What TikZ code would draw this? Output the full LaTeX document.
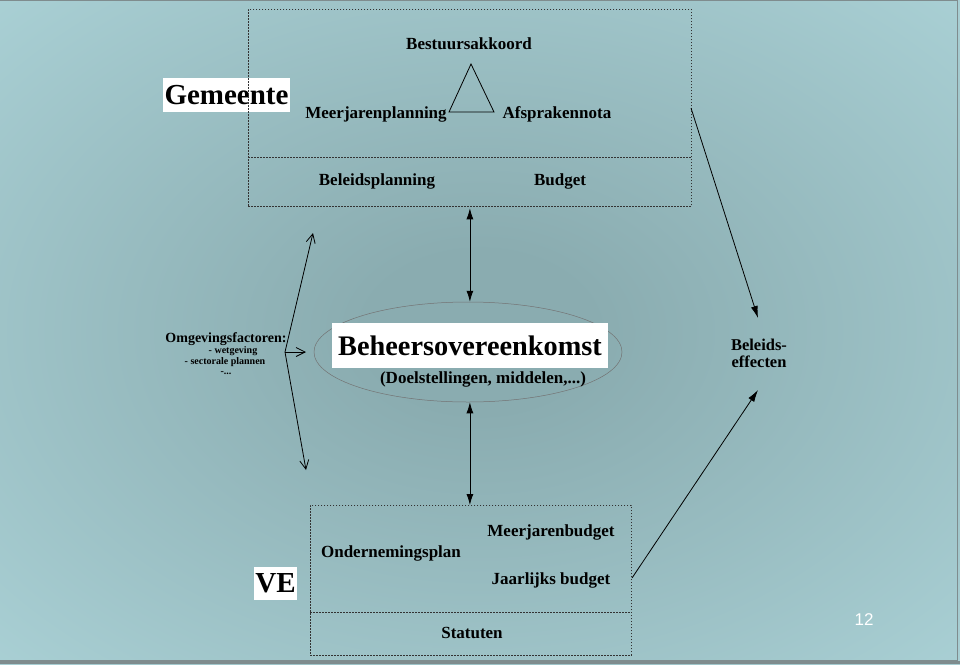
\documentclass[tikz,border=0pt]{standalone}
\usepackage{fontspec}
\setmainfont{Liberation Serif}
\newfontfamily\arialfont{Liberation Sans}
\usetikzlibrary{arrows.meta,shapes.geometric}
\definecolor{bgc}{HTML}{8AACB0}
\definecolor{bge}{HTML}{B8E1E6}
\definecolor{framec}{HTML}{7F8C8E}
\pgfdeclareradialshading{bgshade}{\pgfpoint{0bp}{0bp}}{color(0bp)=(bgc);color(6bp)=(bgc);color(50bp)=(bge);color(100bp)=(bge)}
\begin{document}
\begin{tikzpicture}[x=1pt,y=-1pt,
  txt/.style={font=\bfseries\fontsize{17}{19}\selectfont, inner sep=0pt, text=black},
  bigtxt/.style={font=\bfseries\fontsize{29}{31}\selectfont, inner sep=0pt, text=black},
  smalltxt/.style={font=\bfseries\fontsize{10}{11}\selectfont, inner sep=0pt, text=black},
  whitebox/.style={fill=white, inner sep=0pt},
  dbox/.style={draw=black!80, dash pattern=on 1.6pt off 1.4pt, line width=0.8pt},
  dblarr/.style={{Latex[length=11pt,width=7pt]}-{Latex[length=11pt,width=7pt]}, line width=0.8pt},
  solidarr/.style={-{Latex[length=12pt,width=7pt]}, line width=0.8pt},
  openarr/.style={-{Straight Barb[length=9pt,width=9pt]}, line width=0.8pt}
]
\useasboundingbox (0,0) rectangle (960,664);
\shade[shading=bgshade] (0,0) rectangle (960,664);
% frame
\draw[framec, line width=1.5pt] (0,0.5) -- (957.5,0.5) -- (957.5,661) -- (0,661);
\fill[framec] (0,661) rectangle (960,664);

% Gemeente label box (under dashed box)
\node[whitebox, minimum width=127, minimum height=34] (gembox) at (226.5,95) {};
\node[bigtxt] (gem) at (gembox.center) {Gemeente};

% top dashed box
\node[dbox, minimum width=443, minimum height=197, anchor=north west, inner sep=0pt] (top) at (248,9) {};
\coordinate (topdivL) at (248,157);
\coordinate (topdivR) at (691,157);
\draw[dbox] (topdivL) -- (topdivR);

\node[txt] (bestuur) at (469,44) {Bestuursakkoord};
\coordinate (triA) at (471,64);
\coordinate (triL) at (449,112);
\coordinate (triR) at (494,112);
\draw[line width=0.8pt, line join=miter] (triA) -- (triL) -- (triR) -- cycle;
\node[txt] (meer) at (376,114) {Meerjarenplanning};
\node[txt] (afspr) at (557,114) {Afsprakennota};
\node[txt] (beleid) at (377,181) {Beleidsplanning};
\node[txt] (budget) at (560,181) {Budget};

% ellipse
\node[draw=black!55, line width=0.5pt, ellipse, minimum width=308, minimum height=100, inner sep=0pt] (ell) at (468,352) {};
\node[whitebox, minimum width=276, minimum height=45] (behbox) at (470,345.5) {};
\node[font=\bfseries\fontsize{28.3}{30}\selectfont, inner sep=0pt] (beh) at (behbox.center) {Beheersovereenkomst};
\node[font=\bfseries\fontsize{17}{19}\selectfont, inner sep=0pt] (doel) at (483,379) {(Doelstellingen, middelen,...)};

% omgevingsfactoren
\node[font=\bfseries\fontsize{14}{15}\selectfont, inner sep=0pt] (omg) at (226,339) {Omgevingsfactoren:};
\node[smalltxt] (omg1) at (233,351.5) {- wetgeving};
\node[smalltxt] (omg2) at (225,362.5) {- sectorale plannen};
\node[smalltxt] (omg3) at (226,373) {-...};

\coordinate (fan) at (285,352);
\coordinate (fanT) at (313,233);
\coordinate (fanB) at (306,470);
\coordinate (fanR) at (306,352);
\draw[openarr] (fan) -- (fanT);
\draw[openarr] (fan) -- (fanB);
\draw[openarr] (fan) -- (fanR);

% bottom dashed box
\node[dbox, minimum width=321, minimum height=150, anchor=north west, inner sep=0pt] (bot) at (310,505) {};
\coordinate (botdivL) at (310,612);
\coordinate (botdivR) at (631,612);
\draw[dbox] (botdivL) -- (botdivR);
\node[font=\bfseries\fontsize{17}{19}\selectfont, inner sep=0pt] (onder) at (391,553) {Ondernemingsplan};
\node[font=\bfseries\fontsize{17}{19}\selectfont, inner sep=0pt] (mjb) at (551,532) {Meerjarenbudget};
\node[font=\bfseries\fontsize{17}{19}\selectfont, inner sep=0pt] (jb) at (551,580) {Jaarlijks budget};
\node[font=\bfseries\fontsize{17}{19}\selectfont, inner sep=0pt] (stat) at (472,633) {Statuten};

\node[whitebox, minimum width=43, minimum height=33] (vebox) at (275.5,583.5) {};
\node[bigtxt] (ve) at (vebox.center) {VE};

% vertical connectors
\draw[dblarr, shorten <=1.5pt] (top.south) -- (top.south |- ell.north);
\draw[dblarr] (top.south |- ell.south) -- (top.south |- bot.north);

% beleidseffecten
\node[font=\bfseries\fontsize{16.5}{17}\selectfont, inner sep=0pt, align=center] (eff) at (759,353) {Beleids-\\effecten};
\coordinate (topR) at (691,108);
\coordinate (effN) at (758,318);
\coordinate (botR) at (632,578);
\coordinate (effS) at (758,390);
\draw[solidarr] (topR) -- (effN);
\draw[solidarr] (botR) -- (effS);

% page number
\node[font=\arialfont\fontsize{17}{19}\selectfont, text=white, inner sep=0pt] (pg) at (864,620) {12};
\end{tikzpicture}
\end{document}
